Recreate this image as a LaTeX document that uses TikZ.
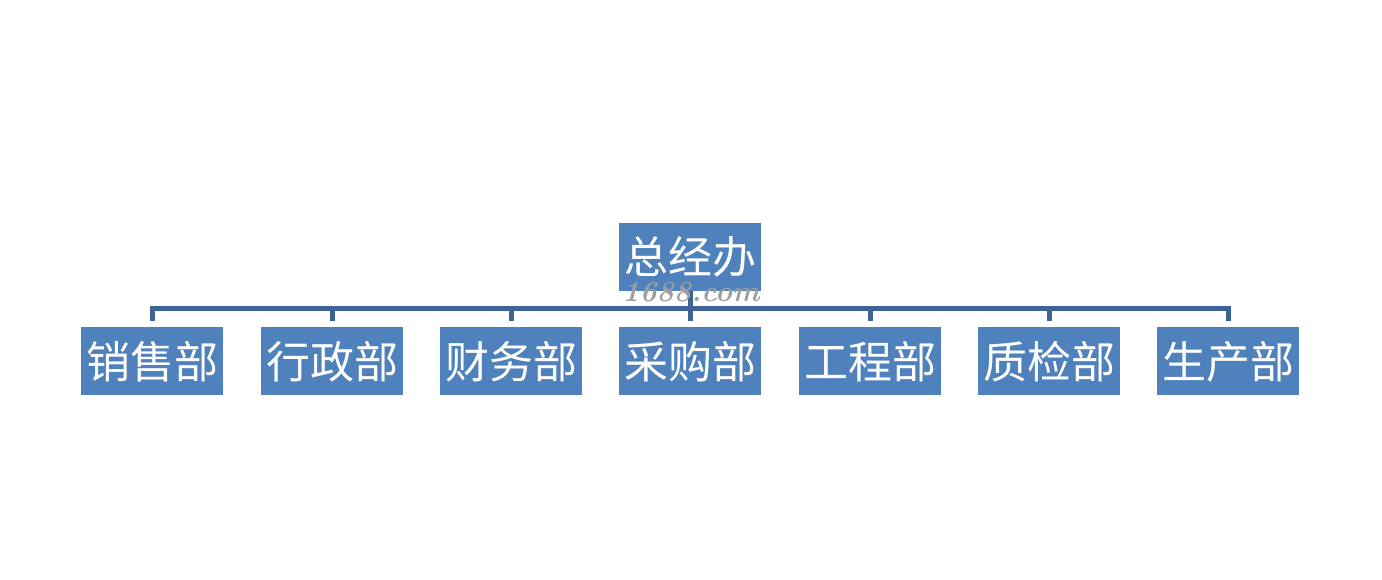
\documentclass[tikz,border=0pt]{standalone}
\usepackage{fontspec}
\newfontfamily\cjk{Noto Sans CJK SC}
\usetikzlibrary{positioning}
\definecolor{boxBlue}{RGB}{79, 129, 189}
\definecolor{lineBlue}{RGB}{62, 100, 150}

\begin{document}
\begin{tikzpicture}[x=1pt, y=1pt,
  dept/.style={fill=boxBlue, text=white, minimum width=142, minimum height=68, inner sep=0pt, font=\cjk\fontsize{44}{48}\selectfont},
  link/.style={lineBlue, line width=5pt}]
\useasboundingbox (0,0) rectangle (1382,580);
\node[dept] (top) at (690,323) {总经办};
\foreach \i/\x/\t in {1/152/销售部, 2/332/行政部, 3/511/财务部, 4/690/采购部, 5/870/工程部, 6/1049/质检部, 7/1228/生产部}
  { \node[dept] (d\i) at (\x,218.5) {\t}; \coordinate (t\i) at (\x,259); }
\coordinate (bus) at (690,271.5);
\draw[link] (top.south) -- (bus);
\draw[link] (t1) -- (t1 |- bus) -- (t7 |- bus) -- (t7);
\foreach \i in {2,...,6} \draw[link] (t\i) -- (t\i |- bus);
\node[text=gray!75, font=\fontsize{29}{30}\selectfont\bfseries\itshape] (wm) at (691,288) {1688.com};
\end{tikzpicture}
\end{document}
